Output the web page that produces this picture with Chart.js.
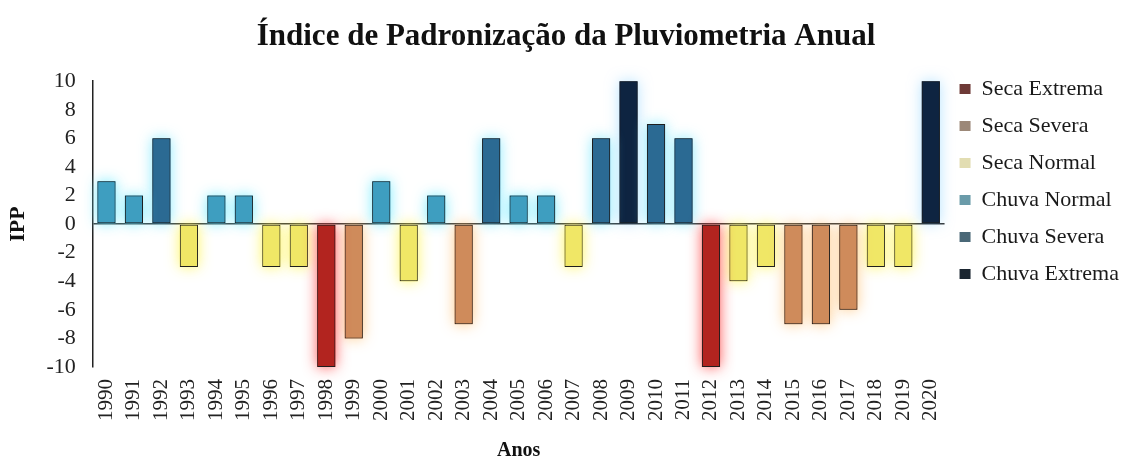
<!DOCTYPE html>
<html>
<head>
<meta charset="utf-8">
<script src="https://cdn.jsdelivr.net/npm/chart.js@4.4.1/dist/chart.umd.min.js"></script>
<style>
  html, body { margin: 0; padding: 0; background: #fff; }
  #wrap { width: 1134px; height: 459px; }
</style>
</head>
<body>
<div id="wrap"><canvas id="ippChart"></canvas></div>
<script>
// anos e valores do IPP
const years = ['1990','1991','1992','1993','1994','1995','1996','1997','1998','1999',
  '2000','2001','2002','2003','2004','2005','2006','2007','2008','2009',
  '2010','2011','2012','2013','2014','2015','2016','2017','2018','2019','2020'];
const ippValues = [3, 2, 6, -3, 2, 2, -3, -3, -10, -8,
  3, -4, 2, -7, 6, 2, 2, -3, 6, 10,
  7, 6, -10, -4, -3, -7, -7, -6, -3, -3, 10];
// classe de cada ano (indice em classNames)
const yearClass = [3, 3, 4, 2, 3, 3, 2, 2, 0, 1,
  3, 2, 3, 1, 4, 3, 3, 2, 4, 5,
  4, 4, 0, 2, 2, 1, 1, 1, 2, 2, 5];
const classNames = ['Seca Extrema', 'Seca Severa', 'Seca Normal', 'Chuva Normal', 'Chuva Severa', 'Chuva Extrema'];
const classColors = ['#b2241f', '#cf8b5b', '#f0e766', '#3e9ec0', '#2b6a93', '#0e2441'];
// os quadradinhos da legenda aparecem mais apagados no original
const legendColors = ['#6e3a37', '#9c8878', '#e2ddb2', '#6a9ba9', '#4a6877', '#1b2631'];
const glowColors = ['rgba(255,70,70,0.9)', 'rgba(255,190,110,0.8)', 'rgba(255,245,80,0.9)', 'rgba(110,235,255,0.9)', 'rgba(110,230,255,0.8)', 'rgba(110,200,255,0.5)'];
const yTicks = [-10, -8, -6, -4, -2, 0, 2, 4, 6, 8, 10];

const datasets = classNames.map((name, k) => ({
  label: name,
  data: ippValues.map((v, i) => yearClass[i] === k ? v : null),
  backgroundColor: classColors[k],
  borderColor: '#1e1e1e',
  borderWidth: 1,
  borderSkipped: false,
  barPercentage: 0.66,
  categoryPercentage: 1.0
}));

// brilho em volta das barras (desenhado antes das barras)
const glowPlugin = {
  id: 'glow',
  beforeDatasetDraw(chart, args) {
    const ctx = chart.ctx;
    ctx.save();
    ctx.shadowColor = glowColors[args.index];
    ctx.shadowBlur = 14;
    ctx.fillStyle = classColors[args.index];
    args.meta.data.forEach(bar => {
      const p = bar.getProps(['x', 'y', 'base', 'width'], true);
      if (p.y == null || isNaN(p.y)) return;
      const top = Math.min(p.y, p.base);
      const h = Math.abs(p.y - p.base);
      if (h > 0) ctx.fillRect(p.x - p.width / 2, top, p.width, h);
    });
    ctx.restore();
  }
};

const serif = "'Liberation Serif', 'DejaVu Serif', serif";

new Chart(document.getElementById('ippChart'), {
  type: 'bar',
  data: { labels: years, datasets: datasets },
  plugins: [glowPlugin],
  options: {
    responsive: true,
    maintainAspectRatio: false,
    animation: false,
    layout: { padding: { top: 8, right: 5, left: 3, bottom: 0 } },
    plugins: {
      title: {
        display: true,
        text: 'Índice de Padronização da Pluviometria Anual',
        color: '#111',
        font: { family: serif, size: 31, weight: 'bold' },
        padding: { top: 10, bottom: 26 }
      },
      legend: {
        position: 'right',
        align: 'start',
        title: {
          display: true,
          text: ' ',
          font: { family: serif, size: 10 },
          padding: { top: 43, bottom: 0 }
        },
        labels: {
          color: '#1a1a1a',
          font: { family: serif, size: 22 },
          boxWidth: 11,
          boxHeight: 10,
          padding: 15,
          generateLabels(chart) {
            const items = Chart.defaults.plugins.legend.labels.generateLabels(chart);
            return items.map((it, k) => Object.assign(it, {
              fillStyle: legendColors[k],
              strokeStyle: legendColors[k],
              lineWidth: 0
            }));
          }
        }
      },
      tooltip: { enabled: false }
    },
    scales: {
      x: {
        stacked: true,
        grid: { display: false, drawTicks: false },
        border: { display: false },
        ticks: {
          color: '#222',
          font: { family: serif, size: 21 },
          maxRotation: 90,
          minRotation: 90,
          autoSkip: false,
          padding: 12
        },
        title: {
          display: true,
          text: 'Anos',
          color: '#111',
          font: { family: serif, size: 20, weight: 'bold' },
          padding: { top: 6, bottom: -4 }
        }
      },
      y: {
        stacked: true,
        min: -10,
        max: 10,
        afterBuildTicks(scale) {
          scale.ticks = yTicks.map(v => ({ value: v }));
        },
        grid: {
          color: c => c.tick && c.tick.value === 0 ? '#333' : 'rgba(0,0,0,0)',
          drawTicks: false,
          lineWidth: 1.5
        },
        border: { display: true, color: '#222', width: 1.5 },
        ticks: {
          color: '#222',
          font: { family: serif, size: 22 },
          padding: 17,
          autoSkip: false
        },
        title: {
          display: true,
          text: 'IPP',
          color: '#111',
          font: { family: serif, size: 22, weight: 'bold' },
          padding: { top: 2, bottom: -2 }
        }
      }
    }
  }
});
</script>
</body>
</html>
